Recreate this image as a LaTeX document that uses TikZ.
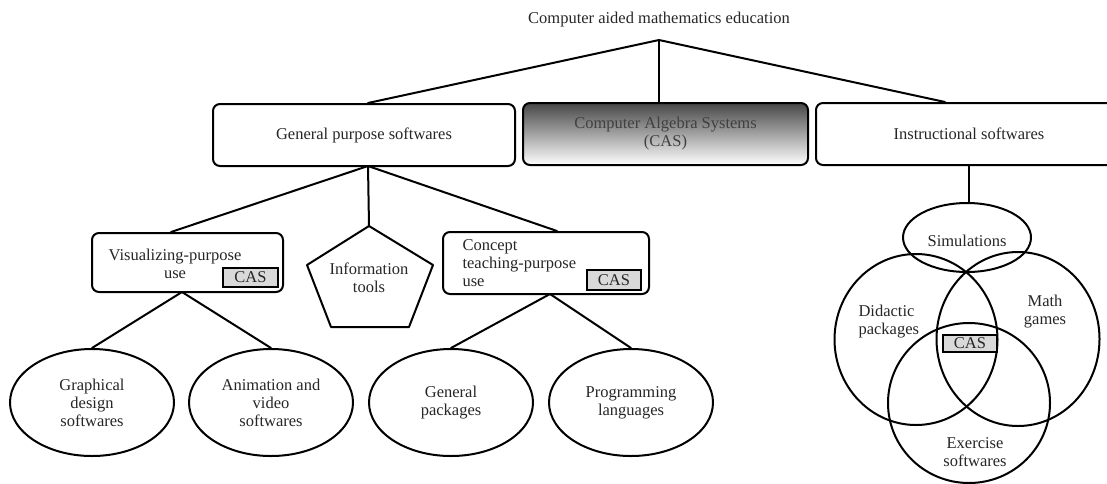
\documentclass[tikz,border=0pt]{standalone}
\usepackage{fontspec}
\setmainfont{Liberation Serif}
\usetikzlibrary{shapes.geometric,calc}
\begin{document}
\begin{tikzpicture}[x=1pt,y=-1pt,
  every node/.style={font=\fontsize{16.5}{18}\selectfont, text=black!85},
  conn/.style={line width=2pt, line cap=round},
  rbox/.style={draw, line width=2pt, rounded corners=7pt, inner sep=0pt},
  ell/.style={draw, ellipse, line width=2pt, inner sep=0pt, minimum width=164pt, minimum height=107pt, align=center},
  tag/.style={draw, line width=2pt, fill=black!15, inner sep=0pt, minimum width=55pt, minimum height=19pt},
  venn/.style={draw, line width=2pt}]
\useasboundingbox (0,0) rectangle (1107,483);
\clip (0,0) rectangle (1107,483);
% title
\node (title) at (659,20) {Computer aided mathematics education};
\coordinate (j0) at (659,40);
% top level boxes
\node[rbox, minimum width=302pt, minimum height=62pt] (gp) at (364,135) {General purpose softwares};
\node[rbox, minimum width=285pt, minimum height=62pt, top color=black!72, bottom color=white, align=center, text=black!75] (cas) at (665.5,134) {Computer Algebra Systems\\(CAS)};
\node[rbox, minimum width=306pt, minimum height=62pt] (instr) at (969,134) {Instructional softwares};
\draw[conn] (j0) -- (gp.north -| 368,0);
\draw[conn] (j0) -- (j0 |- cas.north);
\draw[conn] (j0) -- ([xshift=-24pt]instr.north);
% second level
\coordinate (j1) at (368,166);
\node[rbox, minimum width=191pt, minimum height=59pt] (vis) at (187.5,262.5) {};
\node[align=center] (vistext) at (175,263.5) {Visualizing-purpose\\use};
\node[tag] (vistag) at (250.5,277.5) {CAS};
\coordinate (p1) at (369,226);
\coordinate (p2) at (433,265);
\coordinate (p3) at (409,327);
\coordinate (p4) at (331,327);
\coordinate (p5) at (307,265);
\draw[line width=2pt, line join=round] (p1)--(p2)--(p3)--(p4)--(p5)--cycle;
\node[align=center] (info) at (369,278) {Information\\tools};
\node[rbox, minimum width=206pt, minimum height=62pt] (concept) at (546,263) {};
\node[align=left, anchor=west] (concepttext) at (459,263) {Concept\\teaching-purpose\\use};
\node[tag, minimum width=54pt, minimum height=20pt] (concepttag) at (614,280) {CAS};
\draw[conn] (j1) -- ([xshift=-16.5pt]vis.north);
\draw[conn] (j1) -- (p1);
\draw[conn] (j1) -- ([xshift=11pt]concept.north);
% leaves
\coordinate (j2) at (182,292);
\coordinate (j3) at (550,294);
\node[ell] (graph) at (92,402.5) {Graphical\\design\\softwares};
\node[ell] (anim) at (271,402.5) {Animation and\\video\\softwares};
\node[ell] (genp) at (451,402.5) {General\\packages};
\node[ell] (prog) at (631,402.5) {Programming\\languages};
\draw[conn] (j2) -- (graph.north);
\draw[conn] (j2) -- (anim.north);
\draw[conn] (j3) -- (genp.north);
\draw[conn] (j3) -- (prog.north);
% Venn
\draw[venn] (967,237.5) ellipse [x radius=64, y radius=34.5];
\draw[venn] (916,339.5) ellipse [x radius=81.5, y radius=85.5];
\draw[venn] (1018,339) ellipse [x radius=81.5, y radius=87];
\draw[venn] (969,403) ellipse [x radius=81, y radius=80];
\coordinate (simtop) at (969,203);
\draw[conn] (instr.south) -- (simtop);
\node (sim) at (967,241) {Simulations};
\node[align=left, anchor=west] (did) at (855,322) {Didactic\\packages};
\node[align=center] (math) at (1045,312) {Math\\games};
\node[align=center] (exer) at (975,452) {Exercise\\softwares};
\node[tag, minimum width=54pt, minimum height=17pt] (venntag) at (970,343.5) {CAS};
\end{tikzpicture}
\end{document}
